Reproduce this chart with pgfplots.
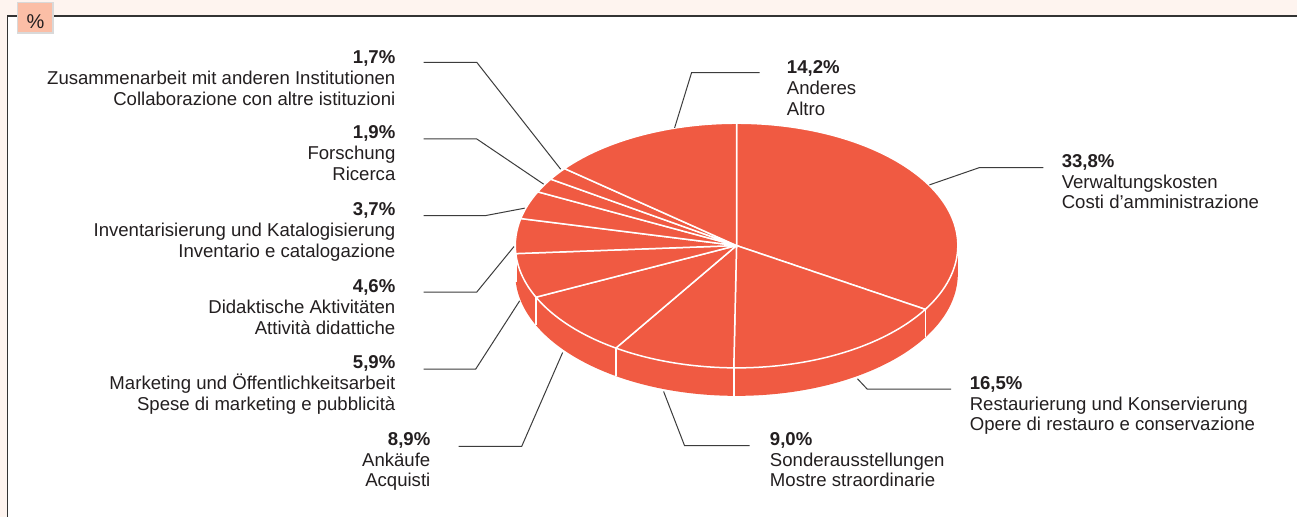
\documentclass[border=0pt]{standalone}
\usepackage{fontspec}
\setmainfont{Liberation Sans}
\usepackage{pgfplots}
\usepackage{pgfplotstable}
\pgfplotsset{compat=1.18}

\definecolor{pie}{RGB}{240,90,66}
\definecolor{band}{RGB}{254,244,239}
\definecolor{tagfill}{RGB}{251,190,166}
\definecolor{txt}{RGB}{35,31,32}
\definecolor{leader}{RGB}{60,60,60}

% shares, clockwise from the top
\pgfplotstableread{
pct
33.8
16.5
9.0
8.9
5.9
4.6
3.7
1.9
1.7
14.2
}\slices

\newcommand\ang[1]{\csname ang#1\endcsname}
% label: x, first baseline, anchor side, value, line 1, line 2
\newcommand\lab[6]{%
  \node[anchor=base #3, font=\fontsize{9.3}{10.4}\selectfont\bfseries] at (#1,#2) {#4};
  \node[anchor=base #3, yshift=-10.4pt] at (#1,#2) {#5};
  \node[anchor=base #3, yshift=-20.8pt] at (#1,#2) {#6};
}

\begin{document}
\begin{tikzpicture}[every node/.append style={inner sep=0pt, text=txt, font=\fontsize{9.3}{10.4}\selectfont}]
% cumulative angles (screen coords, y down, 0 deg = right)
\pgfplotstablegetrowsof{\slices}
\pgfmathtruncatemacro\nrows{\pgfplotsretval-1}
\gdef\tot{0}
\foreach \i in {0,...,\nrows}{
  \pgfplotstablegetelem{\i}{pct}\of\slices
  \pgfmathsetmacro\tmpT{\tot+\pgfplotsretval}
  \xdef\tot{\tmpT}
}
\expandafter\xdef\csname ang0\endcsname{-90}
\gdef\cum{0}
\foreach \i in {0,...,\nrows}{
  \pgfplotstablegetelem{\i}{pct}\of\slices
  \pgfmathsetmacro\tmpC{\cum+\pgfplotsretval}
  \xdef\cum{\tmpC}
  \pgfmathtruncatemacro\j{\i+1}
  \pgfmathsetmacro\tmpF{\tmpC/\tot}
  \pgfmathsetmacro\tmpA{-90+360*\tmpF}
  \expandafter\xdef\csname ang\j\endcsname{\tmpA}
}

\begin{axis}[
  scale only axis, width=649pt, height=258.5pt,
  xmin=0, xmax=1298, ymin=0, ymax=517, y dir=reverse,
  hide axis, clip=false, disabledatascaling,
]
% frame
\fill[band] (0,0) rectangle (1298,517);
\fill[white] (7.5,16) rectangle (1298,517);
\draw[line width=0.8pt, black!80] (7.5,517) -- (7.5,16) -- (1298,16);
\filldraw[fill=tagfill, draw=black!15, line width=0.6pt] (17.5,2.5) rectangle (53,33);
\node[font=\fontsize{10}{12}\selectfont] at (35.5,22) {\%};

% side of the pie (front half)
\fill[pie] (958.4,245.7) arc[start angle=0, end angle=180, x radius=221.4, y radius=122.4]
  -- ++(0,28) arc[start angle=180, end angle=0, x radius=221.4, y radius=122.4] -- cycle;
\pgfplotsinvokeforeach{1,...,5}{
  \draw[white, line width=0.75pt] (737,245.7) ++(\ang{#1}:221.4 and 122.4) -- ++(0,28);
}
% top faces
\pgfplotsinvokeforeach{0,...,9}{
  \filldraw[fill=pie, draw=white, line width=0.75pt, line join=round]
    (737,245.7) -- ++(\ang{#1}:221.4 and 122.4)
    arc[start angle=\ang{#1}, end angle=\ang{\the\numexpr#1+1\relax}, x radius=221.4, y radius=122.4]
    -- cycle;
}

% leader lines
\begin{scope}[leader, line width=0.5pt]
\draw (424,62.3) -- (477,62.3) -- (561,169.3);
\draw (424,139) -- (477,139) -- (544,184.3);
\draw (424,215.7) -- (486,215.7) -- (525,208.3);
\draw (424,292.3) -- (477,292.3) -- (514.3,246.7);
\draw (424,369.3) -- (476,369.3) -- (520,301);
\draw (459,446.7) -- (522,446.7) -- (563,352.7);
\draw (675,128) -- (692,72.7) -- (760,72.7);
\draw (930,185) -- (980,167.7) -- (1044,167.7);
\draw (858,379) -- (867.7,389.3) -- (951.7,389.3);
\draw (664,391.7) -- (685,446) -- (750,446);
\end{scope}

% labels
\lab{396}{63.5}{east}{1,7\%}{Zusammenarbeit mit anderen Institutionen}{Collaborazione con altre istituzioni}
\lab{396}{139}{east}{1,9\%}{Forschung}{Ricerca}
\lab{396}{216}{east}{3,7\%}{Inventarisierung und Katalogisierung}{Inventario e catalogazione}
\lab{396}{293}{east}{4,6\%}{Didaktische Aktivitäten}{Attività didattiche}
\lab{396}{369}{east}{5,9\%}{Marketing und Öffentlichkeitsarbeit}{Spese di marketing e pubblicità}
\lab{431}{445.5}{east}{8,9\%}{Ankäufe}{Acquisti}
\lab{787}{73.5}{west}{14,2\%}{Anderes}{Altro}
\lab{1062}{167.5}{west}{33,8\%}{Verwaltungskosten}{Costi d’amministrazione}
\lab{970}{389.5}{west}{16,5\%}{Restaurierung und Konservierung}{Opere di restauro e conservazione}
\lab{770}{445.5}{west}{9,0\%}{Sonderausstellungen}{Mostre straordinarie}
\end{axis}
\end{tikzpicture}
\end{document}
